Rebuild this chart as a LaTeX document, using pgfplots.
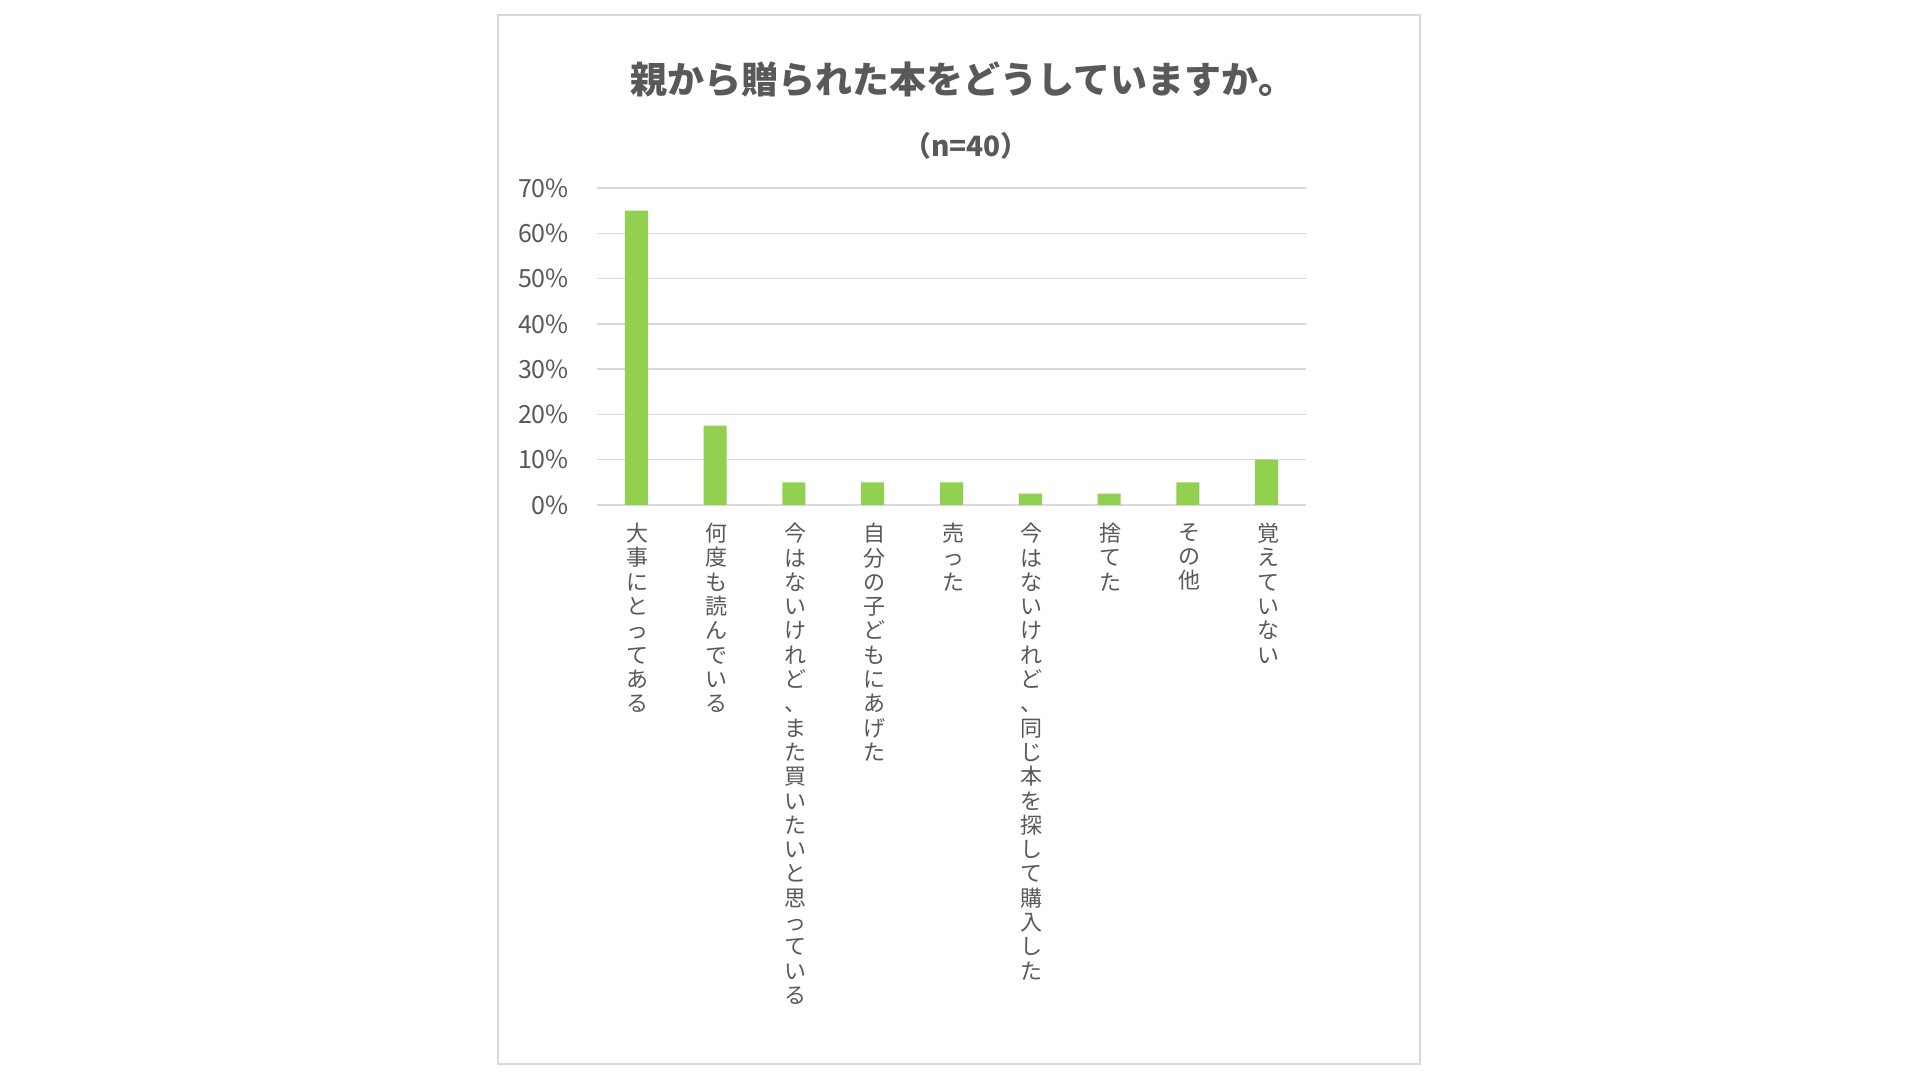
\documentclass[border=0pt]{standalone}
\usepackage{fontspec}
\setmainfont{Noto Sans CJK JP}
\usepackage{pgfplots}
\pgfplotsset{compat=1.18}
\definecolor{bargreen}{HTML}{92D050}
\definecolor{gridgray}{HTML}{D9D9D9}
\definecolor{txtgray}{HTML}{595959}
\def\vstep#1{\ifx\relax#1\else\hbox to 26bp{\hss#1\hss}\expandafter\vstep\fi}
\newcommand\vt[1]{\vbox{\fontsize{22bp}{24.3bp}\selectfont\lineskiplimit=-100bp\lineskip=0pt\vstep#1\relax}}
\begin{document}
\begin{tikzpicture}
\fill[white] (0,0) rectangle (1920bp,1080bp);
\path[use as bounding box] (0,0) rectangle (1920bp,1080bp);
\draw[gridgray, line width=1.5bp] (498bp,16bp) rectangle (1420bp,1065bp);
\node[txtgray, font=\fontsize{37bp}{40bp}\selectfont\bfseries] at (963bp,1001bp) {親から贈られた本をどうしていますか。};
\node[txtgray, font=\fontsize{28bp}{32bp}\selectfont\bfseries] at (966bp,934bp) {（n=40）};
\begin{axis}[
  at={(597bp,575bp)}, anchor=south west,
  scale only axis, width=709bp, height=317bp,
  xmin=-0.5, xmax=8.5, ymin=0, ymax=70,
  enlargelimits=false,
  axis line style={draw=none},
  ymajorgrids, grid style={gridgray, line width=1.5bp},
  major tick length=0pt,
  ytick={0,10,20,30,40,50,60,70},
  yticklabels={0\%,10\%,20\%,30\%,40\%,50\%,60\%,70\%},
  yticklabel style={anchor=east, inner sep=0pt, xshift=-28bp, text=txtgray, font=\fontsize{25bp}{28bp}\selectfont},
  xtick={0,1,2,3,4,5,6,7,8},
  xticklabels={{\vt{大事にとってある}},{\vt{何度も読んでいる}},{\vt{今はないけれど、また買いたいと思っている}},{\vt{自分の子どもにあげた}},{\vt{売った}},{\vt{今はないけれど、同じ本を探して購入した}},{\vt{捨てた}},{\vt{その他}},{\vt{覚えていない}}},
  xticklabel style={anchor=north, inner sep=0pt, yshift=-18bp, xshift=1.5bp, text=txtgray},
  ybar, bar width=23bp, bar shift=0pt,
]
\addplot[fill=bargreen, draw=none] coordinates {(0,65) (1,17.5) (2,5) (3,5) (4,5) (5,2.5) (6,2.5) (7,5) (8,10)};
\end{axis}
\end{tikzpicture}
\end{document}
